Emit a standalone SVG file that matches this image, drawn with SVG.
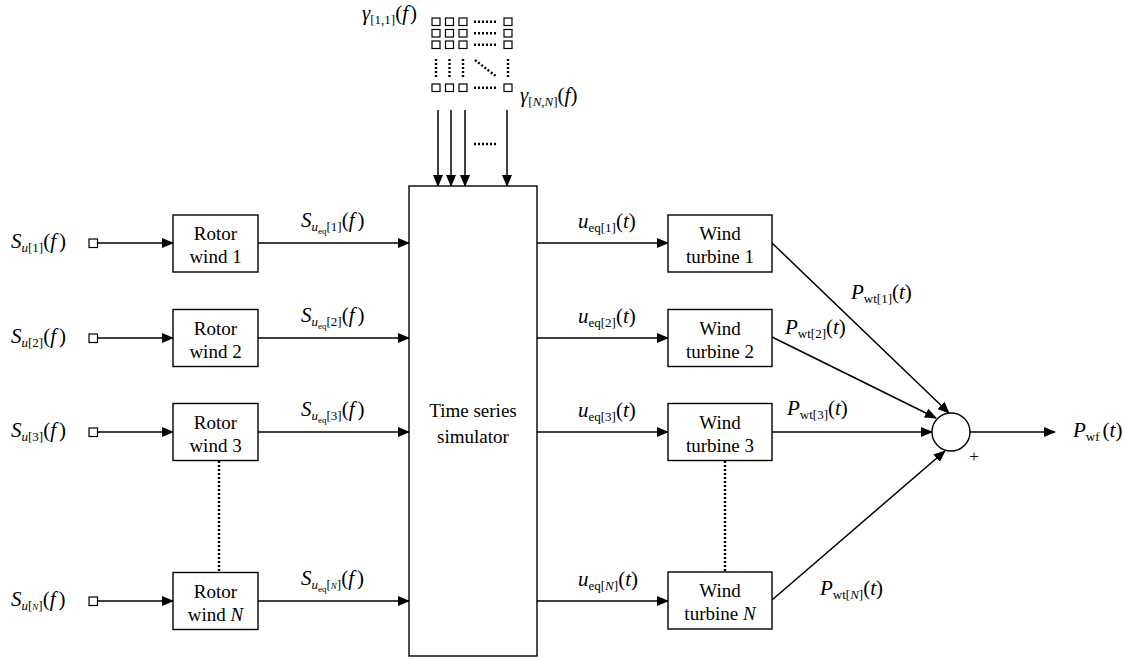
<svg xmlns="http://www.w3.org/2000/svg" width="1124" height="659" viewBox="0 0 1124 659" font-family="'Liberation Serif', Tinos, 'Times New Roman', 'Nimbus Roman', FreeSerif, 'Noto Serif', 'DejaVu Serif', serif">
<style>
text{font-family:'Liberation Serif',Tinos,'Times New Roman','Nimbus Roman',FreeSerif,'Noto Serif','DejaVu Serif',serif;fill:#000}
.bt{font-size:19px;text-anchor:middle}
.m{font-size:21px}
.i{font-style:italic}
.s{font-size:13px}
.ss{font-size:9px}
.box{fill:#fff;stroke:#000;stroke-width:1.4}
.ln{stroke:#000;stroke-width:1.5;fill:none}
.dt{stroke:#000;stroke-width:2.4;fill:none;stroke-dasharray:2 2}
.sq{fill:#fff;stroke:#000;stroke-width:1.2}
</style>
<defs>
<marker id="ah" markerUnits="userSpaceOnUse" markerWidth="12" markerHeight="10" refX="11" refY="5" orient="auto">
<path d="M0,0 L12,5 L0,10 Z" fill="#000"/>
</marker>
</defs>
<rect width="1124" height="659" fill="#fff"/>

<g id="connectors">
<line class="ln" x1="438" y1="110" x2="438" y2="186" marker-end="url(#ah)"/>
<line class="ln" x1="451" y1="110" x2="451" y2="186" marker-end="url(#ah)"/>
<line class="ln" x1="465" y1="110" x2="465" y2="186" marker-end="url(#ah)"/>
<line class="ln" x1="507" y1="110" x2="507" y2="186" marker-end="url(#ah)"/>
<line class="dt" x1="474" y1="144" x2="498" y2="144"/>
<line class="ln" x1="98" y1="243" x2="173" y2="243" marker-end="url(#ah)"/>
<line class="ln" x1="98" y1="338" x2="173" y2="338" marker-end="url(#ah)"/>
<line class="ln" x1="98" y1="432" x2="173" y2="432" marker-end="url(#ah)"/>
<line class="ln" x1="98" y1="601" x2="173" y2="601" marker-end="url(#ah)"/>
<line class="ln" x1="258" y1="243" x2="409" y2="243" marker-end="url(#ah)"/>
<line class="ln" x1="258" y1="338" x2="409" y2="338" marker-end="url(#ah)"/>
<line class="ln" x1="258" y1="432" x2="409" y2="432" marker-end="url(#ah)"/>
<line class="ln" x1="258" y1="601" x2="409" y2="601" marker-end="url(#ah)"/>
<line class="ln" x1="537" y1="243" x2="668" y2="243" marker-end="url(#ah)"/>
<line class="ln" x1="537" y1="338" x2="668" y2="338" marker-end="url(#ah)"/>
<line class="ln" x1="537" y1="432" x2="668" y2="432" marker-end="url(#ah)"/>
<line class="ln" x1="537" y1="601" x2="668" y2="601" marker-end="url(#ah)"/>
<line class="dt" x1="219" y1="461" x2="219" y2="572"/>
<line class="dt" x1="725" y1="461" x2="725" y2="572"/>
<line class="ln" x1="772" y1="243" x2="949" y2="413" marker-end="url(#ah)"/>
<line class="ln" x1="772" y1="337" x2="936" y2="418" marker-end="url(#ah)"/>
<line class="ln" x1="772" y1="432" x2="932" y2="432" marker-end="url(#ah)"/>
<line class="ln" x1="772" y1="600" x2="945" y2="451" marker-end="url(#ah)"/>
<line class="ln" x1="970" y1="432" x2="1055" y2="432" marker-end="url(#ah)"/>
</g>

<g id="matrix">
<rect class="sq" x="432" y="18" width="8" height="7.5"/>
<rect class="sq" x="445.5" y="18" width="8" height="7.5"/>
<rect class="sq" x="459" y="18" width="8" height="7.5"/>
<rect class="sq" x="504" y="18" width="8" height="7.5"/>
<rect class="sq" x="432" y="29.5" width="8" height="7.5"/>
<rect class="sq" x="445.5" y="29.5" width="8" height="7.5"/>
<rect class="sq" x="459" y="29.5" width="8" height="7.5"/>
<rect class="sq" x="504" y="29.5" width="8" height="7.5"/>
<rect class="sq" x="432" y="41" width="8" height="7.5"/>
<rect class="sq" x="445.5" y="41" width="8" height="7.5"/>
<rect class="sq" x="459" y="41" width="8" height="7.5"/>
<rect class="sq" x="504" y="41" width="8" height="7.5"/>
<rect class="sq" x="432" y="84" width="8" height="7.5"/>
<rect class="sq" x="445.5" y="84" width="8" height="7.5"/>
<rect class="sq" x="459" y="84" width="8" height="7.5"/>
<rect class="sq" x="504" y="84" width="8" height="7.5"/>
<line class="dt" x1="474" y1="21.8" x2="498" y2="21.8"/>
<line class="dt" x1="474" y1="33.3" x2="498" y2="33.3"/>
<line class="dt" x1="474" y1="44.8" x2="498" y2="44.8"/>
<line class="dt" x1="474" y1="87.8" x2="498" y2="87.8"/>
<line class="dt" x1="436" y1="59" x2="436" y2="78"/>
<line class="dt" x1="449.5" y1="59" x2="449.5" y2="78"/>
<line class="dt" x1="463" y1="59" x2="463" y2="78"/>
<line class="dt" x1="508" y1="59" x2="508" y2="78"/>
<line class="dt" x1="475" y1="60" x2="497" y2="77"/>
<text x="362" y="20" class="m"><tspan class="i">γ</tspan><tspan class="s" dy="4">[1,1]</tspan><tspan dy="-4">(</tspan><tspan class="i">f</tspan><tspan dx="2">)</tspan></text>
<text x="520" y="102" class="m"><tspan class="i">γ</tspan><tspan class="s" dy="4">[</tspan><tspan class="s i">N</tspan><tspan class="s">,</tspan><tspan class="s i">N</tspan><tspan class="s">]</tspan><tspan dy="-4">(</tspan><tspan class="i">f</tspan><tspan>)</tspan></text>
</g>

<g id="inputs">
<rect class="sq" x="89" y="239" width="8.5" height="8.5"/>
<rect class="sq" x="89" y="334" width="8.5" height="8.5"/>
<rect class="sq" x="89" y="428" width="8.5" height="8.5"/>
<rect class="sq" x="89" y="597" width="8.5" height="8.5"/>
<text x="11" y="248" class="m"><tspan class="i">S</tspan><tspan class="s i" dy="4">u</tspan><tspan class="s">[1]</tspan><tspan dy="-4">(</tspan><tspan class="i">f</tspan><tspan dx="3">)</tspan></text>
<text x="11" y="343" class="m"><tspan class="i">S</tspan><tspan class="s i" dy="4">u</tspan><tspan class="s">[2]</tspan><tspan dy="-4">(</tspan><tspan class="i">f</tspan><tspan dx="3">)</tspan></text>
<text x="11" y="437" class="m"><tspan class="i">S</tspan><tspan class="s i" dy="4">u</tspan><tspan class="s">[3]</tspan><tspan dy="-4">(</tspan><tspan class="i">f</tspan><tspan dx="3">)</tspan></text>
<text x="11" y="606" class="m"><tspan class="i">S</tspan><tspan class="s i" dy="4">u</tspan><tspan class="s">[</tspan><tspan class="ss i">N</tspan><tspan class="s">]</tspan><tspan dy="-4">(</tspan><tspan class="i">f</tspan><tspan dx="3">)</tspan></text>
</g>

<g id="rotor1"><rect class="box" x="173" y="215" width="85" height="57"/><text class="bt" x="215.5" y="240">Rotor</text><text class="bt" x="215.5" y="263">wind 1</text></g>
<g id="rotor2"><rect class="box" x="173" y="309.5" width="85" height="57"/><text class="bt" x="215.5" y="334.5">Rotor</text><text class="bt" x="215.5" y="357.5">wind 2</text></g>
<g id="rotor3"><rect class="box" x="173" y="403.5" width="85" height="57"/><text class="bt" x="215.5" y="428.5">Rotor</text><text class="bt" x="215.5" y="451.5">wind 3</text></g>
<g id="rotorN"><rect class="box" x="173" y="572.5" width="85" height="57"/><text class="bt" x="215.5" y="597.5">Rotor</text><text class="bt" x="215.5" y="620.5">wind <tspan class="i">N</tspan></text></g>

<g id="spectra-labels">
<text x="301" y="227" class="m"><tspan class="i">S</tspan><tspan class="s i" dy="4">u</tspan><tspan class="ss" dy="3">eq</tspan><tspan class="s" dy="-3">[1]</tspan><tspan dy="-4">(</tspan><tspan class="i">f</tspan><tspan dx="3">)</tspan></text>
<text x="301" y="322" class="m"><tspan class="i">S</tspan><tspan class="s i" dy="4">u</tspan><tspan class="ss" dy="3">eq</tspan><tspan class="s" dy="-3">[2]</tspan><tspan dy="-4">(</tspan><tspan class="i">f</tspan><tspan dx="3">)</tspan></text>
<text x="301" y="416" class="m"><tspan class="i">S</tspan><tspan class="s i" dy="4">u</tspan><tspan class="ss" dy="3">eq</tspan><tspan class="s" dy="-3">[3]</tspan><tspan dy="-4">(</tspan><tspan class="i">f</tspan><tspan dx="3">)</tspan></text>
<text x="301" y="585" class="m"><tspan class="i">S</tspan><tspan class="s i" dy="4">u</tspan><tspan class="ss" dy="3">eq</tspan><tspan class="s" dy="-3">[</tspan><tspan class="ss i">N</tspan><tspan class="s">]</tspan><tspan dy="-4">(</tspan><tspan class="i">f</tspan><tspan dx="3">)</tspan></text>
</g>

<g id="simulator"><rect class="box" x="409" y="186" width="128" height="470"/><text class="bt" x="473" y="417">Time series</text><text class="bt" x="473" y="443">simulator</text></g>

<g id="wind-labels">
<text x="578" y="228" class="m"><tspan class="i">u</tspan><tspan class="s" dy="4">eq[1]</tspan><tspan dy="-4">(</tspan><tspan class="i">t</tspan><tspan>)</tspan></text>
<text x="578" y="323" class="m"><tspan class="i">u</tspan><tspan class="s" dy="4">eq[2]</tspan><tspan dy="-4">(</tspan><tspan class="i">t</tspan><tspan>)</tspan></text>
<text x="578" y="417" class="m"><tspan class="i">u</tspan><tspan class="s" dy="4">eq[3]</tspan><tspan dy="-4">(</tspan><tspan class="i">t</tspan><tspan>)</tspan></text>
<text x="578" y="586" class="m"><tspan class="i">u</tspan><tspan class="s" dy="4">eq[</tspan><tspan class="s i">N</tspan><tspan class="s">]</tspan><tspan dy="-4">(</tspan><tspan class="i">t</tspan><tspan>)</tspan></text>
</g>

<g id="turbine1"><rect class="box" x="668" y="215" width="104" height="57"/><text class="bt" x="720" y="240">Wind</text><text class="bt" x="720" y="263">turbine 1</text></g>
<g id="turbine2"><rect class="box" x="668" y="309.5" width="104" height="57"/><text class="bt" x="720" y="334.5">Wind</text><text class="bt" x="720" y="357.5">turbine 2</text></g>
<g id="turbine3"><rect class="box" x="668" y="403.5" width="104" height="57"/><text class="bt" x="720" y="428.5">Wind</text><text class="bt" x="720" y="451.5">turbine 3</text></g>
<g id="turbineN"><rect class="box" x="668" y="572" width="104" height="57"/><text class="bt" x="720" y="597">Wind</text><text class="bt" x="720" y="620">turbine <tspan class="i">N</tspan></text></g>

<g id="power-labels">
<text x="851" y="299" class="m"><tspan class="i">P</tspan><tspan class="s" dy="4">wt[1]</tspan><tspan dy="-4">(</tspan><tspan class="i">t</tspan><tspan>)</tspan></text>
<text x="785" y="334" class="m"><tspan class="i">P</tspan><tspan class="s" dy="4">wt[2]</tspan><tspan dy="-4">(</tspan><tspan class="i">t</tspan><tspan>)</tspan></text>
<text x="787" y="415" class="m"><tspan class="i">P</tspan><tspan class="s" dy="4">wt[3]</tspan><tspan dy="-4">(</tspan><tspan class="i">t</tspan><tspan>)</tspan></text>
<text x="820" y="595" class="m"><tspan class="i">P</tspan><tspan class="s" dy="4">wt[</tspan><tspan class="s i">N</tspan><tspan class="s">]</tspan><tspan dy="-4">(</tspan><tspan class="i">t</tspan><tspan>)</tspan></text>
</g>

<g id="sum"><circle cx="951" cy="432" r="19" fill="#fff" stroke="#000" stroke-width="1.4"/><text x="974" y="462" style="font-size:17px" text-anchor="middle">+</text></g>

<g id="output"><text x="1073" y="437" class="m"><tspan class="i">P</tspan><tspan class="s" dy="4">wf</tspan><tspan dy="-4" dx="3">(</tspan><tspan class="i">t</tspan><tspan>)</tspan></text></g>
</svg>
